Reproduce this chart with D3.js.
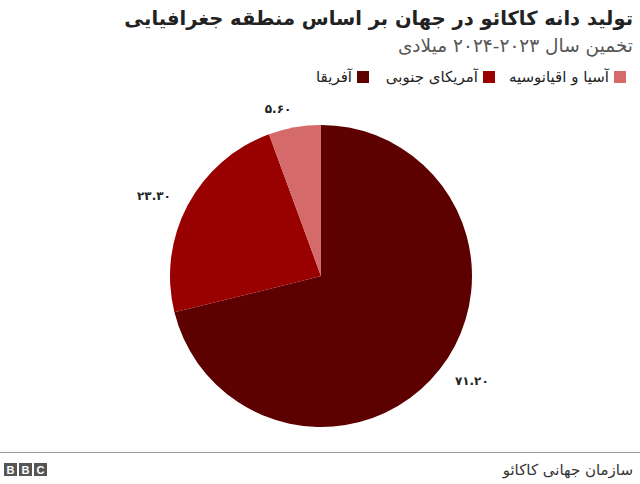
<!DOCTYPE html>
<html><head><meta charset="utf-8">
<script src="https://cdn.jsdelivr.net/npm/d3@7"></script>
<style>
html,body{margin:0;padding:0;background:#fff;}
svg{display:block;font-family:"DejaVu Sans",sans-serif;}
</style></head>
<body><svg id="c" width="640" height="484"></svg>
<script>
const title = "تولید دانه کاکائو در جهان بر اساس منطقه جغرافیایی";
const subtitle = "تخمین سال ۲۰۲۳-۲۰۲۴ میلادی";
const source = "سازمان جهانی کاکائو";
const categories = ["آفریقا", "آمریکای جنوبی", "آسیا و اقیانوسیه"];
const values = [71.2, 23.3, 5.6];
const valueLabels = ["۷۱.۲۰", "۲۳.۳۰", "۵.۶۰"];
const colors = ["#5c0000", "#990000", "#d46a6a"];

const svg = d3.select("#c");
svg.append("text").attr("x", 633).attr("y", 25).attr("direction", "rtl").attr("text-anchor", "start")
  .attr("font-size", 19.5).attr("font-weight", "bold").attr("fill", "#222").text(title);
svg.append("text").attr("x", 633).attr("y", 52).attr("direction", "rtl").attr("text-anchor", "start")
  .attr("font-size", 18.5).attr("fill", "#555").text(subtitle);

// legend
const legendRight = [369, 495, 626];
const lg = svg.append("g");
categories.forEach((c, i) => {
  lg.append("rect").attr("x", legendRight[i] - 12).attr("y", 71).attr("width", 12).attr("height", 12).attr("fill", colors[i]);
  lg.append("text").attr("x", legendRight[i] - 17).attr("y", 82).attr("direction", "rtl").attr("text-anchor", "start")
    .attr("font-size", 15).attr("fill", "#222").text(c);
});

// pie
const cx = 321, cy = 276, r = 151;
const pie = d3.pie().sort(null).value(d => d)(values);
const arc = d3.arc().innerRadius(0).outerRadius(r);
const g = svg.append("g").attr("transform", `translate(${cx},${cy})`);
g.selectAll("path").data(pie).join("path").attr("d", arc).attr("fill", (d, i) => colors[i]);
const labelArc = d3.arc().innerRadius(170).outerRadius(170);
g.selectAll("text.v").data(pie).join("text").attr("class", "v")
  .attr("transform", d => { const p = labelArc.centroid(d); return `translate(${p[0]},${p[1] + 4})`; })
  .attr("text-anchor", d => ((d.startAngle + d.endAngle) / 2 < Math.PI ? "start" : "end"))
  .attr("font-size", 12).attr("font-weight", "bold").attr("fill", "#222")
  .text((d, i) => valueLabels[i]);

// footer
svg.append("line").attr("x1", 0).attr("x2", 640).attr("y1", 452.5).attr("y2", 452.5).attr("stroke", "#999").attr("stroke-width", 1);
const bbc = svg.append("g");
["B", "B", "C"].forEach((l, i) => {
  bbc.append("rect").attr("x", 4 + i * 15).attr("y", 463).attr("width", 13).attr("height", 13).attr("fill", "#555");
  bbc.append("text").attr("x", 4 + i * 15 + 6.5).attr("y", 474).attr("text-anchor", "middle")
    .attr("font-size", 11).attr("font-weight", "bold").attr("fill", "#fff").attr("font-family", "Liberation Sans, sans-serif").text(l);
});
svg.append("text").attr("x", 633).attr("y", 475).attr("direction", "rtl").attr("text-anchor", "start")
  .attr("font-size", 15).attr("fill", "#333").text(source);
</script></body></html>
